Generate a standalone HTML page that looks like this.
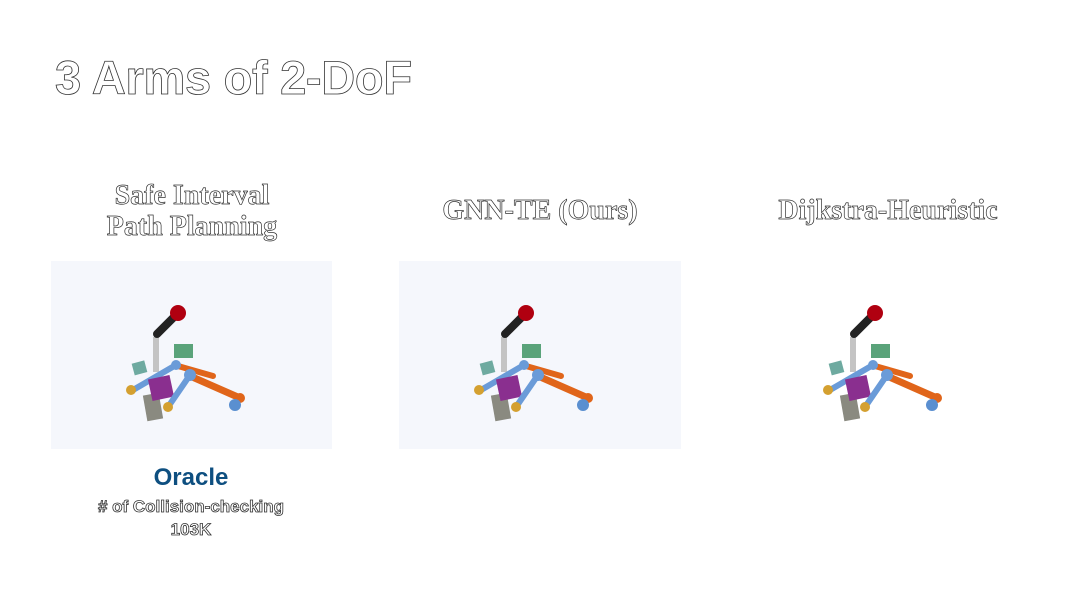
<!DOCTYPE html>
<html><head><meta charset="utf-8"><style>
body{margin:0;width:1080px;height:608px;background:#fff;position:relative;overflow:hidden;font-family:"Liberation Sans",sans-serif}
.o{position:absolute;color:#fff;-webkit-text-stroke:0.8px #333;white-space:nowrap}
.t{left:55px;top:50px;font-size:47px;font-weight:bold;letter-spacing:-0.3px}
.h{font-family:"Liberation Serif",serif;font-weight:bold;font-size:28px;text-align:center;line-height:31px;width:300px;-webkit-text-stroke:0.7px #333}
.p{position:absolute;background:#f5f7fc;top:261px;height:188px}
</style></head><body>
<div class="o t">3 Arms of 2-DoF</div>
<div class="o h" style="left:42px;top:180px">Safe Interval<br>Path Planning</div>
<div class="o h" style="left:390px;top:195px">GNN-TE (Ours)</div>
<div class="o h" style="left:738px;top:195px">Dijkstra-Heuristic</div>
<div class="p" style="left:51px;width:281px"></div>
<div class="p" style="left:399px;width:282px"></div>
<svg width="1080" height="608" style="position:absolute;left:0;top:0">
<defs><g id="r">
<rect x="145" y="394" width="16" height="26" fill="#8a8a80" transform="rotate(-10 153 407)"/>
<line x1="156" y1="337" x2="156" y2="372" stroke="#c4c4c4" stroke-width="6"/>
<line x1="178" y1="313" x2="157" y2="334" stroke="#222" stroke-width="8" stroke-linecap="round"/>
<circle cx="178" cy="313" r="8" fill="#b00010"/>
<rect x="174" y="344" width="19" height="14" fill="#5aa37a"/>
<rect x="133" y="362" width="13" height="12" fill="#6eaaa0" transform="rotate(-15 139 368)"/>
<line x1="178" y1="366" x2="213" y2="376" stroke="#e0651a" stroke-width="6" stroke-linecap="round"/>
<line x1="190" y1="376" x2="240" y2="398" stroke="#e0651a" stroke-width="7" stroke-linecap="round"/>
<circle cx="240" cy="398" r="5" fill="#e0651a"/>
<line x1="176" y1="365" x2="133" y2="390" stroke="#6a9bd8" stroke-width="6" stroke-linecap="round"/>
<circle cx="176" cy="365" r="5" fill="#6a9bd8"/>
<rect x="150" y="377" width="22" height="22" fill="#8a2f8f" transform="rotate(-12 161 388)"/>
<line x1="190" y1="375" x2="168" y2="407" stroke="#6a9bd8" stroke-width="6" stroke-linecap="round"/>
<circle cx="190" cy="375" r="6" fill="#6a9bd8"/>
<circle cx="131" cy="390" r="5" fill="#d4a030"/>
<circle cx="168" cy="407" r="5" fill="#d4a030"/>
<circle cx="235" cy="405" r="6" fill="#5a8fd0"/>
</g></defs>
<use href="#r"/>
<use href="#r" x="348"/>
<use href="#r" x="697"/>
</svg>
<div style="position:absolute;left:41px;width:300px;top:464px;text-align:center;font-size:24px;font-weight:bold;color:#0e4f80">Oracle</div>
<div class="o" style="left:41px;width:300px;top:497px;text-align:center;font-size:17px;font-weight:bold"># of Collision-checking</div>
<div class="o" style="left:41px;width:300px;top:520px;text-align:center;font-size:17px;font-weight:bold">103K</div>
</body></html>
